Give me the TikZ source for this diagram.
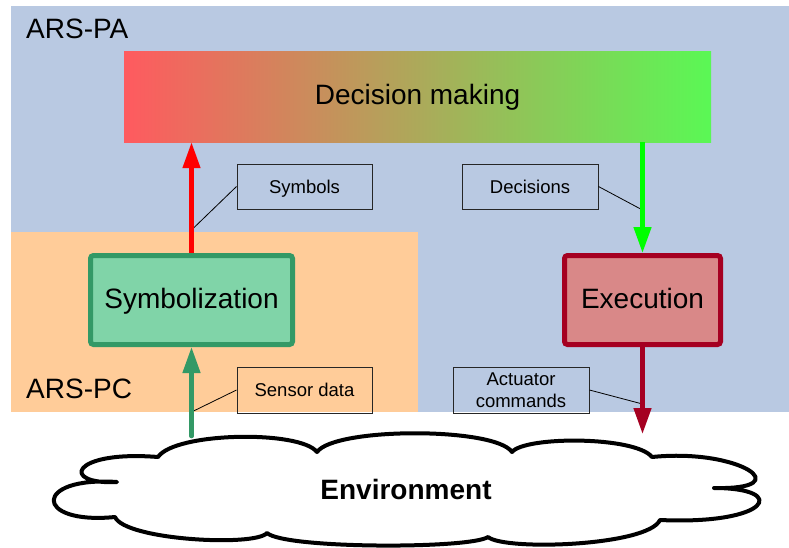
\documentclass[tikz,border=0pt]{standalone}
\usepackage{fontspec}
\setmainfont{Liberation Sans}
\usetikzlibrary{arrows.meta}
\definecolor{bgblue}{RGB}{185,201,226}
\definecolor{bgorange}{RGB}{255,204,153}
\definecolor{symfill}{RGB}{128,212,168}
\definecolor{symdraw}{RGB}{51,153,102}
\definecolor{exfill}{RGB}{217,136,136}
\definecolor{exdraw}{RGB}{165,0,33}
\definecolor{decleft}{RGB}{255,90,95}
\definecolor{decright}{RGB}{90,248,85}
\definecolor{arrred}{RGB}{255,0,0}
\definecolor{arrgreen}{RGB}{0,255,0}
\begin{document}
\begin{tikzpicture}[x=1pt,y=-1pt,
  bigfont/.style={font=\fontsize{28}{34}\selectfont},
  smallfont/.style={font=\fontsize{18.5}{22.5}\selectfont},
  bigtext/.style={bigfont, text height=20pt, text depth=4pt},
  block/.style={rectangle, rounded corners=3pt, line width=5pt, minimum height=89pt, inner sep=0pt, bigtext},
  lbl/.style={rectangle, draw=black!85, line width=1pt, minimum width=135pt, minimum height=45pt, inner sep=0pt, smallfont, align=center},
  onetext/.style={text height=13.25pt, text depth=0pt},
  flow/.style={line width=4.5pt, -{Triangle[length=26pt,width=17pt]}},
  leader/.style={draw=black, line width=0.8pt},
]
\useasboundingbox (0,0) rectangle (789,547);
\fill[bgblue] (11,6) rectangle (789,412);
\fill[bgorange] (11,232) rectangle (418,412);
\node[anchor=base west, bigfont, inner sep=0pt] (pa) at (26,38) {ARS-PA};
\node[anchor=base west, bigfont, inner sep=0pt] (pc) at (26,398) {ARS-PC};
\node[rectangle, minimum width=587pt, minimum height=91pt, left color=decleft, right color=decright, bigtext, inner sep=0pt] (dec) at (417.5,96.5) {Decision making};
\node[block, draw=symdraw, fill=symfill, minimum width=202pt] (symb) at (191.5,300) {Symbolization};
\node[block, draw=exdraw, fill=exfill, minimum width=156pt] (exec) at (642.5,300) {Execution};
\node[lbl, onetext] (sym) at (304.5,186.5) {Symbols};
\node[lbl, onetext, minimum width=136pt] (decs) at (530,186.5) {Decisions};
\node[lbl, onetext, minimum height=46pt] (sens) at (304.5,390) {Sensor data};
\node[lbl, minimum width=136pt, minimum height=46pt] (act) at (521,390) {Actuator\\commands};
\coordinate (c1) at (191.5,230);
\coordinate (c2) at (642.5,210);
\coordinate (c3) at (191.5,412);
\coordinate (c4) at (642.5,404);
\coordinate (senstart) at (191.5,436);
\coordinate (acttip) at (642.5,434);
\draw[leader] (sym.west) -- (c1);
\draw[leader] (decs.east) -- (c2);
\draw[leader] (sens.west) -- (c3);
\draw[leader] (act.east) -- (c4);
\draw[flow, arrred] (symb.north) -- (symb.north |- dec.south);
\draw[flow, arrgreen] (exec.north |- dec.south) -- (exec.north);
\draw[flow, exdraw] (exec.south) -- (acttip);
\draw[flow, symdraw, line cap=round] (senstart) -- (symb.south);
\draw[line width=4pt, fill=white, line join=round] (158,457)
 .. controls (175,432) and (300,430) .. (317,452)
 .. controls (335,427) and (495,427) .. (512,452)
 .. controls (525,436) and (635,436) .. (652,457)
 .. controls (740,448) and (800,490) .. (714,488)
 .. controls (790,488) and (770,525) .. (660,520)
 .. controls (648,546) and (505,551) .. (488,537)
 .. controls (470,549) and (285,549) .. (267,533)
 .. controls (255,547) and (125,540) .. (115,517)
 .. controls (33,525) and (33,476) .. (117,482)
 .. controls (60,485) and (70,450) .. (158,457) -- cycle;
\node[anchor=base, font=\fontsize{28}{34}\selectfont\bfseries, inner sep=0pt] (env) at (406,499) {Environment};
\end{tikzpicture}
\end{document}
